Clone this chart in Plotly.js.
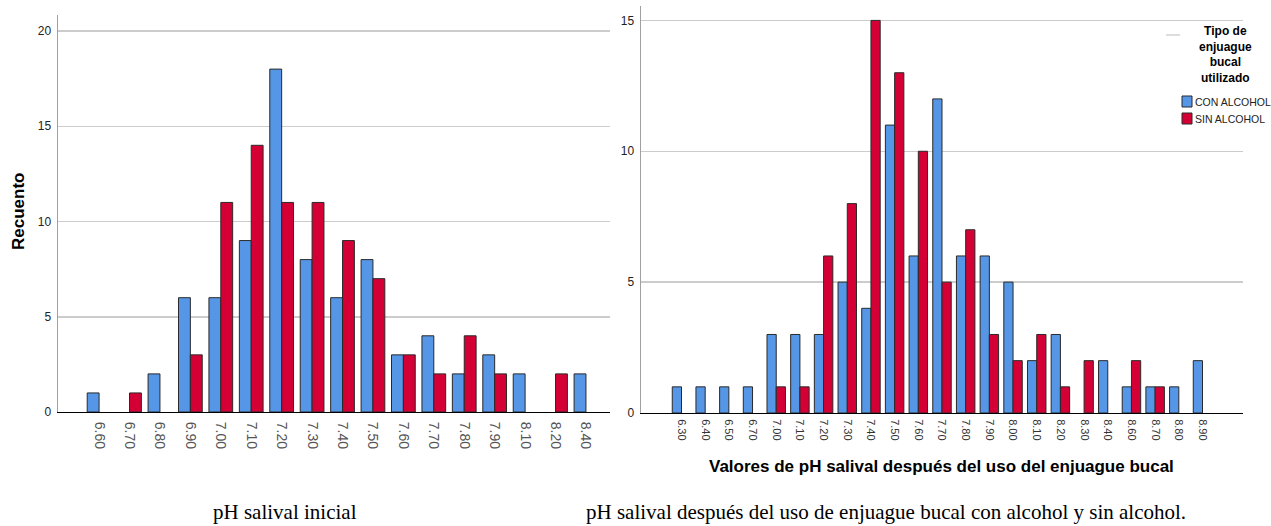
<!DOCTYPE html>
<html>
<head>
<meta charset="utf-8">
<script src="https://cdn.plot.ly/plotly-3.0.1.min.js"></script>
<style>
  html, body { margin: 0; padding: 0; background: #ffffff; }
  #chart { width: 1271px; height: 526px; }
</style>
</head>
<body>
<div id="chart"></div>
<script>
// ---------- Data ----------
const catsInicial = ['6.60','6.70','6.80','6.90','7.00','7.10','7.20','7.30','7.40','7.50','7.60','7.70','7.80','7.90','8.10','8.20','8.40'];
const conInicial  = [1, 0, 2, 6, 6, 9, 18, 8, 6, 8, 3, 4, 2, 3, 2, 0, 2];
const sinInicial  = [0, 1, 0, 3, 11, 14, 11, 11, 9, 7, 3, 2, 4, 2, 0, 2, 0];

const catsDespues = ['6.30','6.40','6.50','6.70','7.00','7.10','7.20','7.30','7.40','7.50','7.60','7.70','7.80','7.90','8.00','8.10','8.20','8.30','8.40','8.60','8.70','8.80','8.90'];
const conDespues  = [1, 1, 1, 1, 3, 3, 3, 5, 4, 11, 6, 12, 6, 6, 5, 2, 3, 0, 2, 1, 1, 1, 2];
const sinDespues  = [0, 0, 0, 0, 1, 1, 6, 8, 15, 13, 10, 5, 7, 3, 2, 3, 1, 2, 0, 2, 1, 0, 0];

const seriesNames = ['CON ALCOHOL', 'SIN ALCOHOL'];
const yTitle = 'Recuento';
const xTitleDespues = 'Valores de pH salival después del uso del enjuague bucal';
const legendTitle = 'Tipo de<br>enjuague<br>bucal<br>utilizado';
const captionInicial = 'pH salival inicial';
const captionDespues = 'pH salival después del uso de enjuague bucal con alcohol y sin alcohol.';

// ---------- Styling ----------
const W = 1271, H = 526;
const X = px => px / W;
const Y = py => (H - py) / H;
const BLUE = '#5596e6';
const RED = '#d40035';
const OUTLINE = '#2a2a2a';
const SANS = 'Liberation Sans, Arial, sans-serif';
const SERIF = 'Liberation Serif, Times New Roman, serif';

// empty (zero-count) slots are left blank, as in the original chart
const blankZero = arr => arr.map(v => (v === 0 ? null : v));

function bar(x, y, name, color, xa, ya) {
  return {
    type: 'bar', x: x, y: blankZero(y), name: name, xaxis: xa, yaxis: ya,
    marker: { color: color, line: { color: OUTLINE, width: 1 } },
    showlegend: false, hoverinfo: 'x+y+name'
  };
}

const data = [
  bar(catsInicial, conInicial, seriesNames[0], BLUE, 'x', 'y'),
  bar(catsInicial, sinInicial, seriesNames[1], RED, 'x', 'y'),
  bar(catsDespues, conDespues, seriesNames[0], BLUE, 'x2', 'y2'),
  bar(catsDespues, sinDespues, seriesNames[1], RED, 'x2', 'y2')
];

const yCommon = {
  showgrid: true, gridcolor: '#cccccc', gridwidth: 1.5,
  zeroline: false, showline: true, linecolor: '#a0a0a0', linewidth: 1.5,
  ticks: 'outside', ticklen: 3, tickcolor: 'rgba(0,0,0,0)',
  dtick: 5, tick0: 0,
  tickfont: { family: SANS, size: 12, color: '#222222' },
  fixedrange: true
};

const layout = {
  width: W, height: H,
  margin: { l: 0, r: 0, t: 0, b: 0, pad: 0 },
  paper_bgcolor: '#ffffff', plot_bgcolor: '#ffffff',
  barmode: 'group', bargap: 0.22, bargroupgap: 0,
  showlegend: false,
  xaxis: {
    domain: [X(58), X(610)], anchor: 'y', type: 'category',
    range: [-1.35, 16.79],
    showgrid: false, zeroline: false, showline: true, linecolor: '#000000', linewidth: 1,
    ticks: 'outside', ticklen: 6, tickcolor: 'rgba(0,0,0,0)',
    tickangle: 90,
    tickfont: { family: SANS, size: 14, color: '#555555' },
    fixedrange: true
  },
  yaxis: Object.assign({}, yCommon, {
    domain: [Y(412), Y(15)], anchor: 'x', range: [0, 20.84]
  }),
  xaxis2: {
    domain: [X(641), X(1243)], anchor: 'y2', type: 'category',
    range: [-1.71, 23.71],
    showgrid: false, zeroline: false, showline: true, linecolor: '#000000', linewidth: 1,
    ticks: 'outside', ticklen: 3, tickcolor: 'rgba(0,0,0,0)',
    tickangle: 90,
    tickfont: { family: SANS, size: 11, color: '#333333' },
    fixedrange: true
  },
  yaxis2: Object.assign({}, yCommon, {
    domain: [Y(413), Y(6)], anchor: 'x2', range: [0, 15.55]
  }),
  shapes: [
    // legend: short grey line next to title
    { type: 'line', xref: 'paper', yref: 'paper', x0: X(1166), x1: X(1180), y0: Y(35), y1: Y(35),
      line: { color: '#bbbbbb', width: 1 } },
    // legend swatches
    { type: 'rect', xref: 'paper', yref: 'paper', x0: X(1182), x1: X(1192), y0: Y(107), y1: Y(96),
      fillcolor: BLUE, line: { color: OUTLINE, width: 1 } },
    { type: 'rect', xref: 'paper', yref: 'paper', x0: X(1182), x1: X(1192), y0: Y(124), y1: Y(113),
      fillcolor: RED, line: { color: OUTLINE, width: 1 } }
  ],
  annotations: [
    { text: '<b>' + yTitle + '</b>', xref: 'paper', yref: 'paper', x: X(18), y: Y(212),
      textangle: -90, showarrow: false, xanchor: 'center', yanchor: 'middle',
      font: { family: SANS, size: 17, color: '#000000' } },
    { text: '<b>' + xTitleDespues + '</b>', xref: 'paper', yref: 'paper', x: X(942), y: Y(466),
      showarrow: false, xanchor: 'center', yanchor: 'middle',
      font: { family: SANS, size: 17, color: '#000000' } },
    { text: '<b>' + legendTitle + '</b>', xref: 'paper', yref: 'paper', x: X(1225), y: Y(55),
      showarrow: false, xanchor: 'center', yanchor: 'middle', align: 'center',
      font: { family: SANS, size: 12, color: '#000000' } },
    { text: seriesNames[0], xref: 'paper', yref: 'paper', x: X(1193), y: Y(102),
      showarrow: false, xanchor: 'left', yanchor: 'middle',
      font: { family: SANS, size: 10.5, color: '#222222' } },
    { text: seriesNames[1], xref: 'paper', yref: 'paper', x: X(1193), y: Y(119),
      showarrow: false, xanchor: 'left', yanchor: 'middle',
      font: { family: SANS, size: 10.5, color: '#222222' } },
    { text: captionInicial, xref: 'paper', yref: 'paper', x: X(285), y: 0,
      showarrow: false, xanchor: 'center', yanchor: 'bottom',
      font: { family: SERIF, size: 21, color: '#000000' } },
    { text: captionDespues, xref: 'paper', yref: 'paper', x: X(886), y: 0,
      showarrow: false, xanchor: 'center', yanchor: 'bottom',
      font: { family: SERIF, size: 21, color: '#000000' } }
  ]
};

Plotly.newPlot('chart', data, layout, { displayModeBar: false, staticPlot: true });
</script>
</body>
</html>
